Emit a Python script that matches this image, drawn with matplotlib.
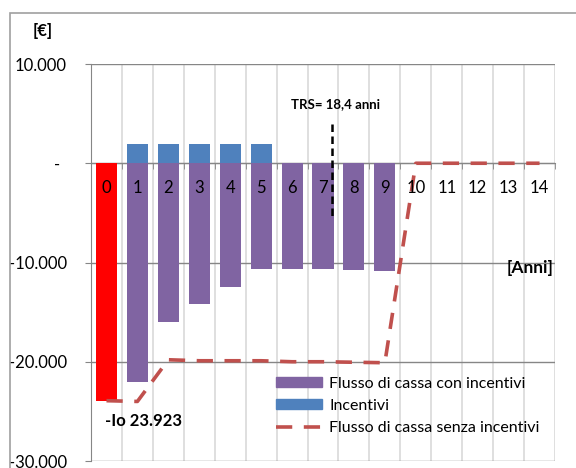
import matplotlib.pyplot as plt
from matplotlib.patches import Rectangle, Patch
from matplotlib.transforms import ScaledTranslation
import numpy as np

plt.rcParams["font.family"] = ["Lato", "DejaVu Sans"]

anni = list(range(15))
flusso_con = [-23923, -22000, -16000, -14200, -12500, -10700, -10700, -10700,
              -10800, -10850, 0, 0, 0, 0, 0]
incentivi = [0, 1900, 1900, 1900, 1900, 1900, 0, 0, 0, 0, 0, 0, 0, 0, 0]
flusso_senza = [-23923, -24000, -19800, -19900, -19900, -19900, -20000, -20000,
                -20050, -20100, 0, 0, 0, 0, 0]
y_ticks = [-30000, -20000, -10000, 0, 10000]
y_labels = ["-30.000", "-20.000", "-10.000", "-", "10.000"]
trs_x = 7.3

PURPLE = "#8064A2"
BLUE = "#4F81BD"
RED_LINE = "#C0504D"


def main() -> None:
    fig = plt.figure(figsize=(5.76, 4.68), dpi=100)
    W, H = 576, 468
    ax = fig.add_axes([91 / W, 1 - 461 / H, (555 - 91) / W, (461 - 64) / H])

    # outer chart border
    fig.patches.append(Rectangle((10 / W, -0.1), 1.2, 1 - 13 / H + 0.1,
                                 transform=fig.transFigure, fill=False,
                                 edgecolor="#a0a0a0", linewidth=1.2))

    x = np.array(anni)
    colors = ["#FF0000"] + [PURPLE] * (len(anni) - 1)
    ax.bar(x, flusso_con, width=0.68, color=colors, zorder=3)
    ax.bar(x, incentivi, width=0.68, color=BLUE, zorder=3)
    line, = ax.plot(x, flusso_senza, color=RED_LINE, lw=2.6,
                    ls=(0, (4.5, 3.2)), zorder=4)

    leg_handles = [Patch(color=PURPLE), Patch(color=BLUE), line]
    leg_labels = ["Flusso di cassa con incentivi", "Incentivi",
                  "Flusso di cassa senza incentivi"]
    ax.legend(leg_handles, leg_labels, loc="upper left",
              bbox_to_anchor=(276 / W, 1 - 377 / H),
              bbox_transform=fig.transFigure, frameon=False, fontsize=11.5,
              handlelength=2.9, handleheight=0.56, handletextpad=0.44,
              labelspacing=0.5, borderpad=0, borderaxespad=0)

    ax.set_xlim(-0.5, 14.5)
    ax.set_ylim(-30000, 10000)

    # y axis
    ax.set_yticks(y_ticks)
    ax.set_yticklabels(y_labels, fontsize=12)
    ax.tick_params(axis="y", length=4.3, color="#868686", pad=13)
    zero_lbl = ax.get_yticklabels()[3]
    zero_lbl.set_transform(zero_lbl.get_transform()
                           + ScaledTranslation(-4.7 / 72, 0, fig.dpi_scale_trans))
    ax.yaxis.grid(True, color="#868686", lw=1.0, zorder=1)

    # x axis on zero line, category labels drawn above the bars
    ax.spines["bottom"].set_position(("data", 0))
    ax.spines["bottom"].set_color("#868686")
    ax.spines["left"].set_color("#868686")
    ax.spines["top"].set_visible(False)
    ax.spines["right"].set_visible(False)
    ax.set_xticks(x)
    ax.set_xticklabels([])
    ax.tick_params(axis="x", length=0)
    ax.set_xticks(np.arange(-0.5, 15, 1), minor=True)
    ax.tick_params(axis="x", which="minor", length=4, color="#868686")
    ax.xaxis.grid(True, which="minor", color="#d9d9d9", lw=1.2, zorder=0)
    ax.set_axisbelow(True)
    down = ScaledTranslation(0, -25 / 100, fig.dpi_scale_trans)
    for a in anni:
        ax.text(a, 0, str(a), fontsize=12, ha="center", va="center",
                transform=ax.transData + down, zorder=6)

    # TRS marker
    ax.plot([trs_x, trs_x], [4000, -5400], color="black", lw=1.8,
            ls=(0, (3, 1.8)), zorder=5)
    ax.text(7.4, 6000, "TRS= 18,4 anni", fontsize=9.5,
            fontweight="bold", ha="center", va="center")

    ax.text(0 - 0.05, -26000, "-Io 23.923", fontsize=12, fontweight="bold",
            ha="left", va="center")
    ax.text(14.45, -10600, "[Anni]", fontsize=12.5, fontweight="bold",
            ha="right", va="center")
    fig.text(43 / W, 1 - 31 / H, "[€]", fontsize=12, fontweight="bold",
             ha="center", va="center")

    fig.savefig("out.png", dpi=100)
    return


if __name__ == "__main__":
    main()
